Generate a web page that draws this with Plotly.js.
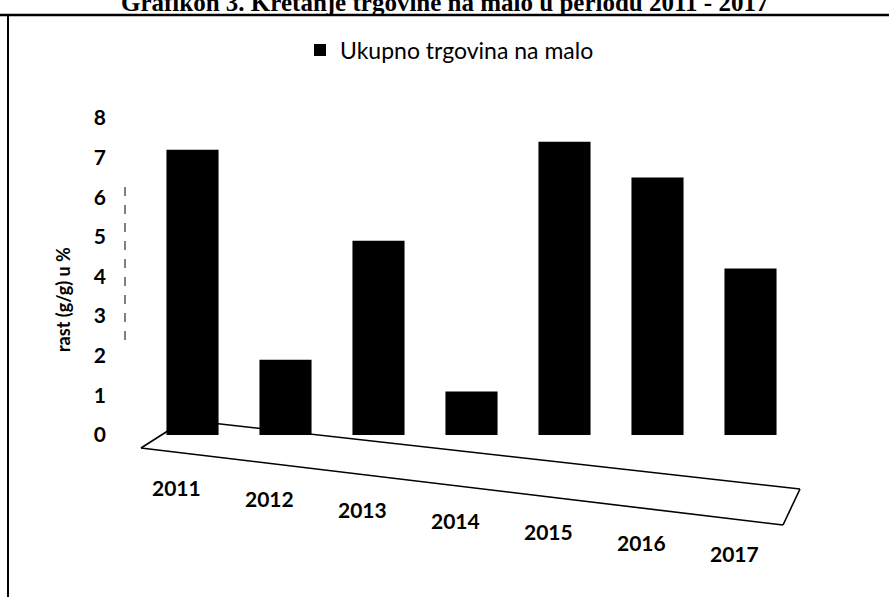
<!DOCTYPE html>
<html>
<head>
<meta charset="utf-8">
<script src="https://cdn.plot.ly/plotly-3.0.1.min.js"></script>
<style>
html,body{margin:0;padding:0;background:#fff;}
#chart{width:889px;height:597px;}
</style>
</head>
<body>
<div id="chart"></div>
<script>
// ---- data ----
const years = ['2011','2012','2013','2014','2015','2016','2017'];
const growth = [7.2, 1.9, 4.9, 1.1, 7.4, 6.5, 4.2];
const seriesName = 'Ukupno trgovina na malo';
const chartTitle = 'Grafikon 3. Kretanje trgovine na malo u periodu 2011 - 2017';
const yTitle = 'rast (g/g) u %';
const yTicks = [0,1,2,3,4,5,6,7,8];

// ---- layout helpers (pixel -> paper) ----
const W = 889, H = 597;
const M = {l:146, r:92, t:118, b:162};
const PW = W - M.l - M.r, PH = H - M.t - M.b;
const px = x => (x - M.l) / PW;
const py = y => (H - M.b - y) / PH;

function line(x0,y0,x1,y1,w,dash){
  return {type:'line', xref:'paper', yref:'paper', layer:'below',
    x0:px(x0), y0:py(y0), x1:px(x1), y1:py(y1),
    line:{color:'#000', width:w, dash:dash||'solid'}};
}

const shapes = [
  line(0,15,889,15,2.5),
  line(8,15,8,597,2),
  line(141,448,783,525,1.6),
  line(141,448,185,420,1.6),
  line(185,420,800,489,1.6),
  line(800,489,783,525,1.6),
  line(125,187,125,343,1,'dash')
];

const annotations = [];
annotations.push({
  text:'<b>'+chartTitle+'</b>', xref:'paper', yref:'paper',
  x:px(444), y:py(2), xanchor:'center', yanchor:'middle', showarrow:false,
  font:{family:'Liberation Serif, Times New Roman, serif', size:25, color:'#000'}
});
annotations.push({
  text:'<b>'+yTitle+'</b>', xref:'paper', yref:'paper', textangle:-90,
  x:px(63), y:py(300), xanchor:'center', yanchor:'middle', showarrow:false,
  font:{family:'Lato, sans-serif', size:18, color:'#000'}
});
years.forEach((yr,i)=>{
  annotations.push({
    text:'<b>'+yr+'</b>', xref:'x', yref:'paper', x:i, y:py(487),
    xanchor:'center', yanchor:'middle', showarrow:false,
    xshift:-16, yshift:-11*i,
    font:{family:'Lato, sans-serif', size:21, color:'#000'}
  });
});

const trace = {
  type:'bar', x:years, y:growth, name:seriesName,
  marker:{color:'#000', line:{width:0}}, width:0.56,
  showlegend:true, hoverinfo:'x+y'
};

const layout = {
  width:W, height:H, margin:M,
  paper_bgcolor:'#fff', plot_bgcolor:'#fff',
  showlegend:true,
  legend:{orientation:'h', x:px(300), xanchor:'left', y:py(50), yanchor:'middle',
    font:{family:'Lato, sans-serif', size:23, color:'#000'}, bgcolor:'rgba(0,0,0,0)'},
  xaxis:{type:'category', range:[-0.5,6.5], showticklabels:false, showgrid:false,
    zeroline:false, showline:false, ticks:''},
  yaxis:{range:[0,8], tickvals:yTicks, ticktext:yTicks.map(v=>'<b>'+v+'</b>'),
    showgrid:false, zeroline:false, showline:false, ticks:'',
    ticklabelstandoff:39,
    tickfont:{family:'Lato, sans-serif', size:21, color:'#000'}},
  shapes:shapes, annotations:annotations
};

Plotly.newPlot('chart',[trace],layout,{displayModeBar:false, staticPlot:true});
</script>
</body>
</html>
